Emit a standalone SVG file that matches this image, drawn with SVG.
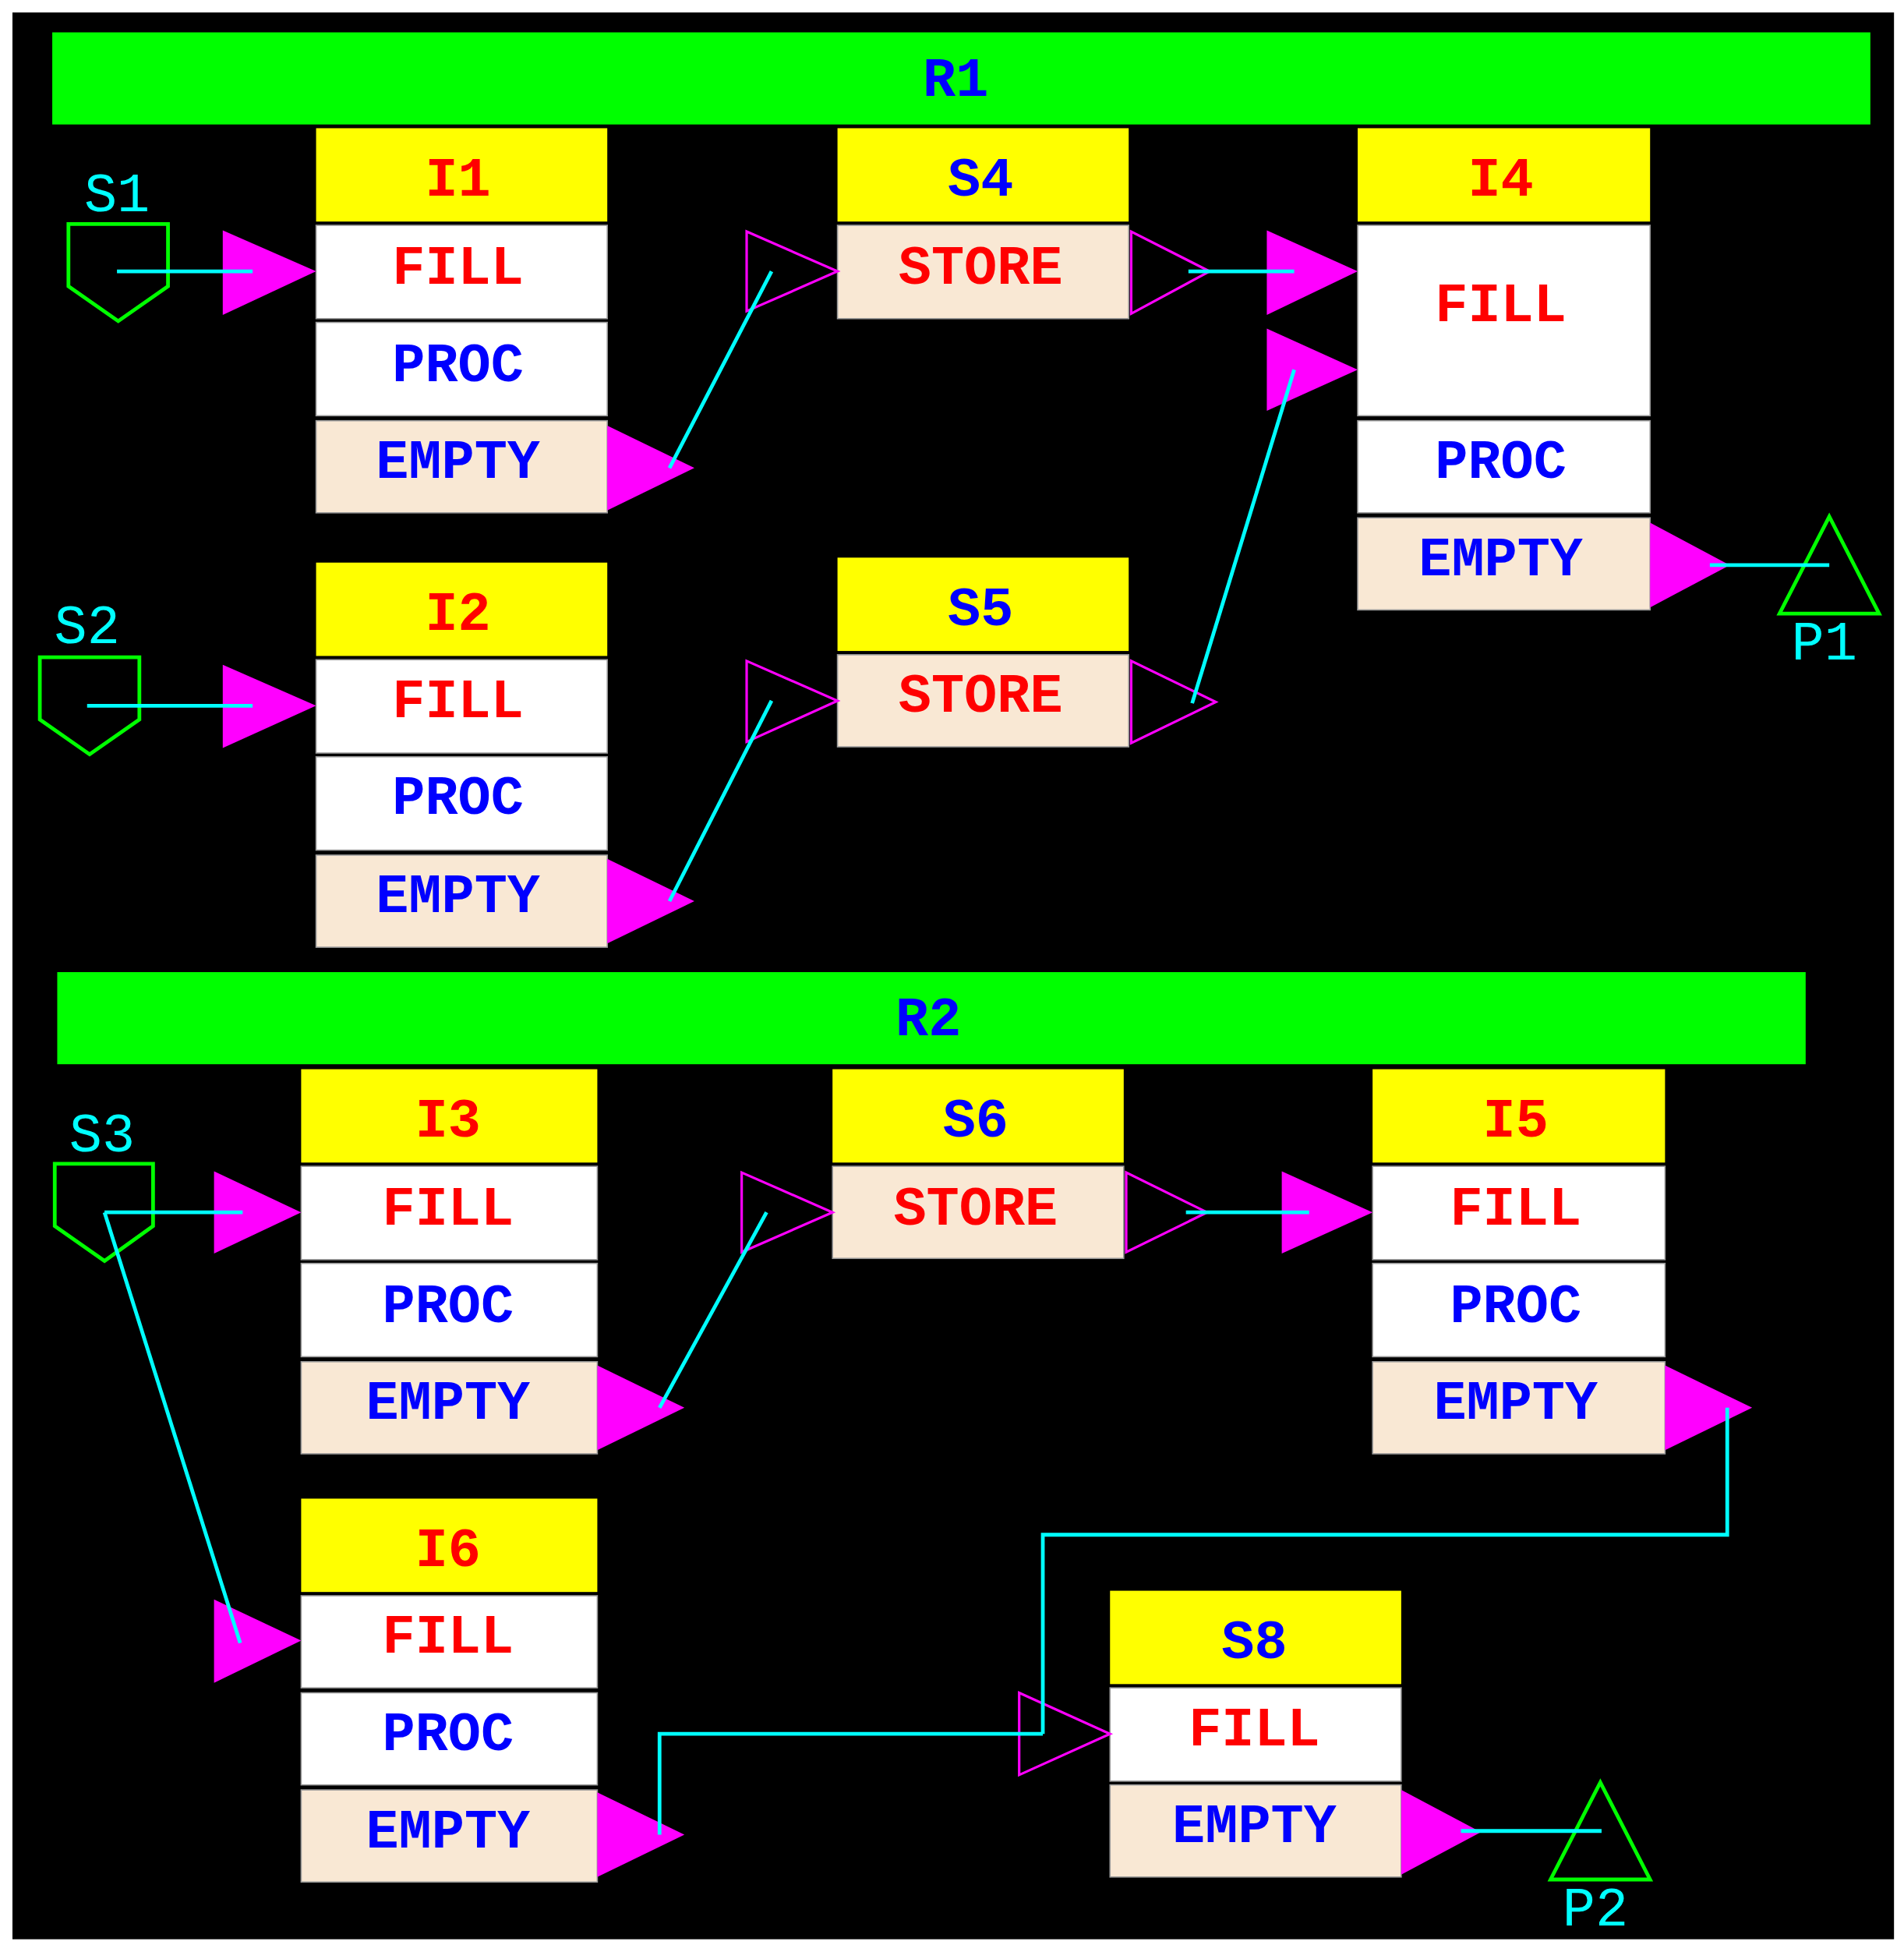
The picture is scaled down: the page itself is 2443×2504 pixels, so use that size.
<svg xmlns="http://www.w3.org/2000/svg" width="2443" height="2504" viewBox="0 0 2443 2504">
<style>
text{font-family:"Liberation Mono","DejaVu Sans Mono",monospace;font-size:44px;font-weight:bold;text-anchor:middle}
.r{fill:#ff0000}.b{fill:#0000ff}.c{fill:#00ffff;font-weight:normal}
.y{fill:#ffff00}.w{fill:#ffffff;stroke:#999;stroke-width:1}.e{fill:#f9e8d4;stroke:#999;stroke-width:1}
.g{fill:#00ff00}
.fa{fill:#ff00ff}.ha{fill:none;stroke:#ff00ff;stroke-width:2}
.src{fill:none;stroke:#00ff00;stroke-width:3}
.ln{fill:none;stroke:#00ffff;stroke-width:3}
</style>
<rect width="2443" height="2504" fill="#fff"/>
<g transform="scale(1.5967)">
<rect x="10" y="10" width="1512" height="1548" fill="#000"/>
<g id="R1"><rect class="g" x="42" y="26" width="1461" height="74"/><text class="b" x="768" y="77">R1</text></g>
<g id="R2"><rect class="g" x="46" y="781" width="1405" height="74"/><text class="b" x="746" y="832">R2</text></g>

<g id="I1"><rect class="y" x="254" y="103" width="234" height="75"/><text class="r" x="368" y="157">I1</text>
<rect class="w" x="254" y="181" width="234" height="75"/><text class="r" x="368" y="228">FILL</text>
<rect class="w" x="254" y="259" width="234" height="75"/><text class="b" x="368" y="306">PROC</text>
<rect class="e" x="254" y="338" width="234" height="74"/><text class="b" x="368" y="384">EMPTY</text></g>
<g id="I2"><rect class="y" x="254" y="452" width="234" height="75"/><text class="r" x="368" y="506">I2</text>
<rect class="w" x="254" y="530" width="234" height="75"/><text class="r" x="368" y="576">FILL</text>
<rect class="w" x="254" y="608" width="234" height="75"/><text class="b" x="368" y="654">PROC</text>
<rect class="e" x="254" y="687" width="234" height="74"/><text class="b" x="368" y="733">EMPTY</text></g>
<g id="S4"><rect class="y" x="673" y="103" width="234" height="75"/><text class="b" x="788" y="157">S4</text>
<rect class="e" x="673" y="181" width="234" height="75"/><text class="r" x="788" y="228">STORE</text></g>
<g id="S5"><rect class="y" x="673" y="448" width="234" height="75"/><text class="b" x="788" y="502">S5</text>
<rect class="e" x="673" y="526" width="234" height="74"/><text class="r" x="788" y="572">STORE</text></g>
<g id="I4"><rect class="y" x="1091" y="103" width="235" height="75"/><text class="r" x="1206" y="157">I4</text>
<rect class="w" x="1091" y="181" width="235" height="153"/><text class="r" x="1206" y="258">FILL</text>
<rect class="w" x="1091" y="338" width="235" height="74"/><text class="b" x="1206" y="384">PROC</text>
<rect class="e" x="1091" y="416" width="235" height="74"/><text class="b" x="1206" y="462">EMPTY</text></g>
<g id="I3"><rect class="y" x="242" y="859" width="238" height="75"/><text class="r" x="360" y="913">I3</text>
<rect class="w" x="242" y="937" width="238" height="75"/><text class="r" x="360" y="984">FILL</text>
<rect class="w" x="242" y="1015" width="238" height="75"/><text class="b" x="360" y="1062">PROC</text>
<rect class="e" x="242" y="1094" width="238" height="74"/><text class="b" x="360" y="1140">EMPTY</text></g>
<g id="S6"><rect class="y" x="669" y="859" width="234" height="75"/><text class="b" x="784" y="913">S6</text>
<rect class="e" x="669" y="937" width="234" height="74"/><text class="r" x="784" y="984">STORE</text></g>
<g id="I5"><rect class="y" x="1103" y="859" width="235" height="75"/><text class="r" x="1218" y="913">I5</text>
<rect class="w" x="1103" y="937" width="235" height="75"/><text class="r" x="1218" y="984">FILL</text>
<rect class="w" x="1103" y="1015" width="235" height="75"/><text class="b" x="1218" y="1062">PROC</text>
<rect class="e" x="1103" y="1094" width="235" height="74"/><text class="b" x="1218" y="1140">EMPTY</text></g>
<g id="I6"><rect class="y" x="242" y="1204" width="238" height="75"/><text class="r" x="360" y="1258">I6</text>
<rect class="w" x="242" y="1282" width="238" height="74"/><text class="r" x="360" y="1328">FILL</text>
<rect class="w" x="242" y="1360" width="238" height="74"/><text class="b" x="360" y="1406">PROC</text>
<rect class="e" x="242" y="1438" width="238" height="74"/><text class="b" x="360" y="1484">EMPTY</text></g>
<g id="S8"><rect class="y" x="892" y="1278" width="234" height="75"/><text class="b" x="1008" y="1332">S8</text>
<rect class="w" x="892" y="1356" width="234" height="75"/><text class="r" x="1008" y="1402">FILL</text>
<rect class="e" x="892" y="1434" width="234" height="74"/><text class="b" x="1008" y="1480">EMPTY</text></g>

<g id="S1"><polygon class="src" points="55,180 135,180 135,230 95,258 55,230"/><text class="c" x="94" y="170">S1</text></g>
<g id="S2"><polygon class="src" points="32,528 112,528 112,578 72,606 32,578"/><text class="c" x="70" y="517">S2</text></g>
<g id="S3"><polygon class="src" points="44,935 123,935 123,985 84,1013 44,985"/><text class="c" x="82" y="925">S3</text></g>
<g id="P1"><polygon class="src" points="1470,415 1430,493 1510,493"/><text class="c" x="1466" y="530">P1</text></g>
<g id="P2"><polygon class="src" points="1286,1432 1246,1510 1326,1510"/><text class="c" x="1282" y="1547">P2</text></g>

<g id="ports">
<polygon class="fa" points="179,185 179,253 254,218"/>
<polygon class="fa" points="488,342 488,410 558,376"/>
<polygon class="ha" points="600,186 600,250 673,218"/>
<polygon class="ha" points="909,186 909,252 972,218"/>
<polygon class="fa" points="1018,185 1018,253 1091,218"/>
<polygon class="fa" points="1018,264 1018,330 1091,297"/>
<polygon class="fa" points="1326,420 1326,488 1390,454"/>
<polygon class="fa" points="179,534 179,601 254,567"/>
<polygon class="fa" points="488,690 488,758 558,724"/>
<polygon class="ha" points="600,531 600,596 673,563"/>
<polygon class="ha" points="909,531 909,597 977,564"/>
<polygon class="fa" points="172,941 172,1007 242,974"/>
<polygon class="fa" points="172,1285 172,1352 242,1318"/>
<polygon class="fa" points="480,1097 480,1165 550,1131"/>
<polygon class="ha" points="596,942 596,1006 669,974"/>
<polygon class="ha" points="905,942 905,1006 970,974"/>
<polygon class="fa" points="1030,941 1030,1007 1103,974"/>
<polygon class="fa" points="1338,1097 1338,1165 1408,1131"/>
<polygon class="fa" points="480,1440 480,1508 550,1474"/>
<polygon class="ha" points="819,1360 819,1426 892,1393"/>
<polygon class="fa" points="1126,1438 1126,1506 1190,1472"/>
</g>
<g id="connectors">
<line class="ln" x1="94" y1="218" x2="203" y2="218"/>
<line class="ln" x1="538" y1="376" x2="620" y2="218"/>
<line class="ln" x1="955" y1="218" x2="1040" y2="218"/>
<line class="ln" x1="958" y1="565" x2="1040" y2="297"/>
<line class="ln" x1="1374" y1="454" x2="1470" y2="454"/>
<line class="ln" x1="70" y1="567" x2="203" y2="567"/>
<line class="ln" x1="538" y1="724" x2="620" y2="563"/>
<line class="ln" x1="84" y1="974" x2="195" y2="974"/>
<line class="ln" x1="84" y1="974" x2="193" y2="1320"/>
<line class="ln" x1="530" y1="1131" x2="616" y2="974"/>
<line class="ln" x1="953" y1="974" x2="1052" y2="974"/>
<polyline class="ln" points="1388,1131 1388,1233 838,1233 838,1393"/>
<polyline class="ln" points="530,1474 530,1393 838,1393"/>
<line class="ln" x1="1174" y1="1471" x2="1287" y2="1471"/>
</g>
</g>
</svg>
